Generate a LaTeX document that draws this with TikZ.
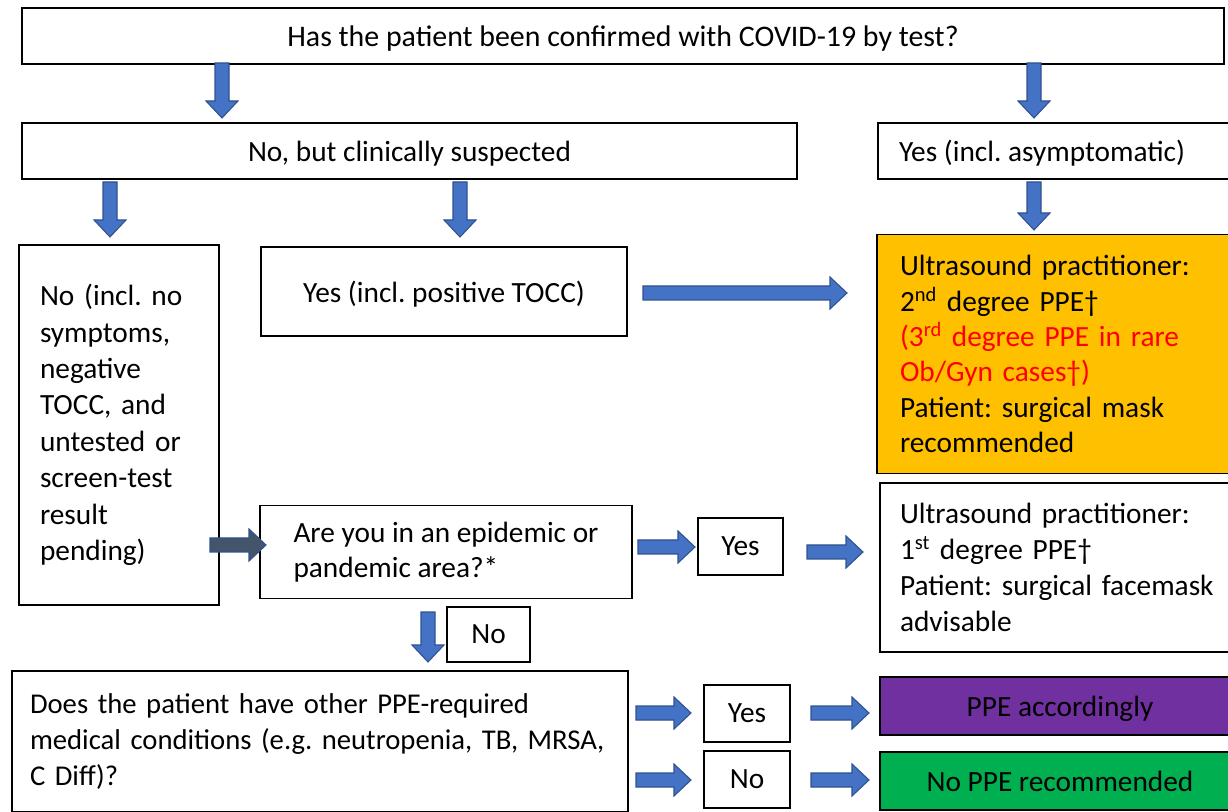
\documentclass[tikz,border=0pt]{standalone}
\usepackage{fontspec}
\setmainfont{Carlito}
\frenchspacing
\definecolor{arrblue}{HTML}{4472C4}
\definecolor{arrborder}{HTML}{2F528F}
\definecolor{arrdark}{HTML}{44546A}
\definecolor{orangebox}{HTML}{FFC000}
\definecolor{purplebox}{HTML}{7030A0}
\definecolor{greenbox}{HTML}{00B050}
\definecolor{redtext}{HTML}{FF0000}
\newcommand\darr[3]{\filldraw[arr] (#1-7,#2) -- (#1+7,#2) -- (#1+7,#3-17) -- (#1+16,#3-17) -- (#1,#3) -- (#1-16,#3-17) -- (#1-7,#3-17) -- cycle;}
\newcommand\rarr[4][arr]{\filldraw[#1] (#2,#4-7) -- (#3-17,#4-7) -- (#3-17,#4-16) -- (#3,#4) -- (#3-17,#4+16) -- (#3-17,#4+7) -- (#2,#4+7) -- cycle;}
\begin{document}
\begin{tikzpicture}[x=0.75pt,y=-0.75pt,
  box/.style={draw=black, line width=1.3pt, inner sep=0pt, font=\fontsize{22}{26.5}\selectfont},
  one/.style={text depth=0pt},
  txt/.style={inner sep=0pt, font=\fontsize{22}{26.5}\selectfont},
  arr/.style={fill=arrblue, draw=arrborder, line width=0.8pt},
  arrd/.style={fill=arrdark, draw=arrborder, line width=0.8pt}]
\useasboundingbox (0,0) rectangle (1228,812);
\clip (0,0) rectangle (1228,812);

\node[box, one, minimum width=901.5pt, minimum height=42pt, font=\fontsize{22.4}{26.5}\selectfont] (top) at (623,36) {Has the patient been confirmed with COVID-19 by test?};
\node[box, one, minimum width=581.25pt, minimum height=42pt] (nobut) at (409.5,151) {No, but clinically suspected};
\node[box, minimum width=271.5pt, minimum height=42pt] (yesasym) at (1059,151) {};
\node[txt, one] (yesasymt) at (1042,151) {Yes (incl. asymptomatic)};

\node[box, minimum width=150pt, minimum height=270pt, text width=118.5pt, align=left, font=\fontsize{22}{27.3}\selectfont] (left) at (119,425)
  {No (incl. no\\symptoms,\\negative\\TOCC, and\\untested or\\screen-test\\result\\pending)};
\node[box, one, minimum width=274.5pt, minimum height=66.75pt] (tocc) at (444,291.5) {Yes (incl. positive TOCC)};
\node[box, fill=orangebox, minimum width=272.25pt, minimum height=179.25pt, text width=237.75pt, align=left] (orange) at (1058.5,354)
  {Ultrasound practitioner:\\2\textsuperscript{nd} degree PPE†\\\textcolor{redtext}{(3\textsuperscript{rd} degree PPE in rare}\\\textcolor{redtext}{Ob/Gyn cases†)}\\Patient: surgical mask\\recommended};
\node[box, minimum width=279pt, minimum height=69.75pt, align=left] (epid) at (446,552) {Are you in an epidemic or\\pandemic area?*};
\node[box, minimum width=63.75pt, minimum height=42.75pt] (yesmid) at (740.5,546.5) {Yes};
\node[box, minimum width=270pt, minimum height=126.75pt, text width=240pt, align=left, font=\fontsize{22}{26.8}\selectfont] (us1) at (1060,567.5)
  {Ultrasound practitioner:\\1\textsuperscript{st} degree PPE†\\Patient: surgical facemask\\advisable};
\node[box, minimum width=62.25pt, minimum height=41.25pt] (nobox) at (488.5,634.5) {No};
\node[box, minimum width=462pt, minimum height=105.75pt, text width=435pt, align=left, font=\fontsize{21.5}{27}\selectfont] (bottom) at (320,741.5)
  {Does the patient have other PPE-required\\\mbox{medical conditions (e.g. neutropenia, TB, MRSA,}\\C Diff)?};
\node[box, minimum width=64.5pt, minimum height=42.75pt] (yes2) at (747,713.5) {Yes};
\node[box, minimum width=64.5pt, minimum height=42.75pt] (no2) at (747,779.5) {No};
\node[box, one, fill=purplebox, minimum width=270pt, minimum height=43.5pt] (purple) at (1060,706) {PPE accordingly};
\node[box, one, fill=greenbox, minimum width=270pt, minimum height=43.5pt] (green) at (1060,781) {No PPE recommended};

\darr{222}{63}{118}
\darr{1034}{63}{118}
\darr{110}{182}{237}
\darr{460}{182}{237}
\darr{1034}{182}{230}
\darr{428}{612}{662}
\rarr{643}{847}{293}
\rarr[arrd]{210}{266}{545}
\rarr{638}{695}{547}
\rarr{807}{863}{552}
\rarr{636}{691}{713}
\rarr{636}{691}{780}
\rarr{811}{869}{713}
\rarr{811}{869}{780}
\end{tikzpicture}
\end{document}
